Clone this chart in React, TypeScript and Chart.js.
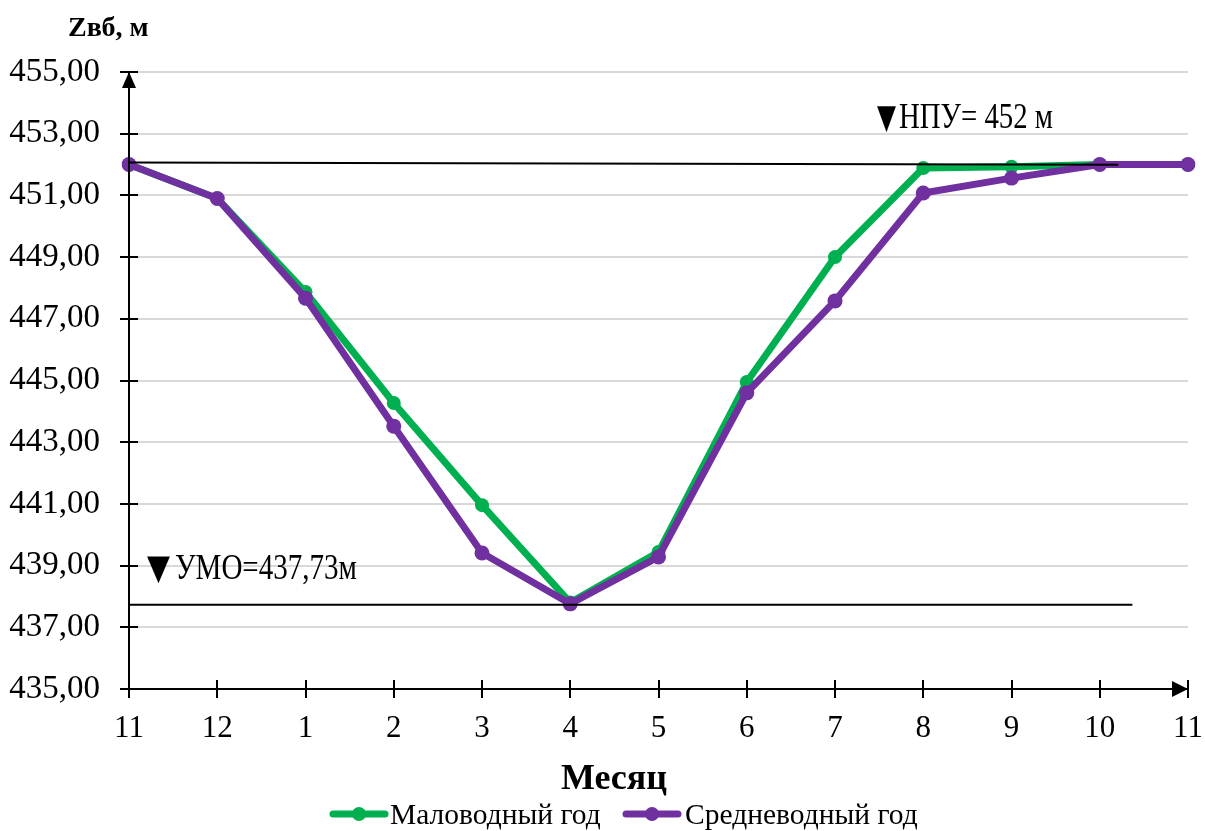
import React, { useEffect, useRef } from "react";
import { Chart, registerables } from "chart.js";

Chart.register(...registerables);

const months = ["11", "12", "1", "2", "3", "4", "5", "6", "7", "8", "9", "10", "11"];
const lowWaterYear = [452.0, 450.9, 447.87, 444.27, 440.96, 437.8, 439.44, 444.95, 449.0, 451.89, 451.93, 452.0, 452.0];
const midWaterYear = [452.0, 450.9, 447.67, 443.52, 439.41, 437.76, 439.28, 444.6, 447.58, 451.08, 451.56, 452.0, 452.0];
const seriesNames = ["Маловодный год", "Средневодный год"];
const seriesColors = ["#00B050", "#7030A0"];
const yMin = 435;
const yMax = 455;
const yStep = 2;
const npuLevel = 452;
const umoLevel = 437.73;
const markSymbol = "▼";
const npuLabel = "НПУ= 452 м";
const umoLabel = "УМО=437,73м";
const yTitle = "Zвб, м";
const xTitle = "Месяц";

const SERIF = "'Liberation Serif', 'Times New Roman', 'DejaVu Serif', serif";
const SYMBOL = "'DejaVu Sans', sans-serif";

function fitText(ctx: CanvasRenderingContext2D, text: string, x: number, y: number, font: string, width: number) {
  ctx.save();
  ctx.font = font;
  ctx.textAlign = "left";
  ctx.textBaseline = "alphabetic";
  const w = ctx.measureText(text).width;
  const s = width / w;
  ctx.translate(x, y);
  ctx.scale(s, 1);
  ctx.fillStyle = "#000";
  ctx.fillText(text, 0, 0);
  ctx.restore();
}

const overlay = {
  id: "overlay",
  afterDatasetsDraw(chart: any) {
    const ctx: CanvasRenderingContext2D = chart.ctx;
    const x = chart.scales.x;
    const y = chart.scales.y;
    ctx.save();
    ctx.strokeStyle = "#000";
    ctx.lineWidth = 2;
    ctx.beginPath();
    ctx.moveTo(x.getPixelForValue(0), y.getPixelForValue(npuLevel + 0.07));
    ctx.lineTo(x.getPixelForValue(11.21), y.getPixelForValue(npuLevel - 0.01));
    ctx.stroke();
    ctx.beginPath();
    ctx.moveTo(x.getPixelForValue(0), y.getPixelForValue(umoLevel));
    ctx.lineTo(x.getPixelForValue(11.37), y.getPixelForValue(umoLevel));
    ctx.stroke();
    ctx.restore();
  },
  afterDraw(chart: any) {
    const ctx: CanvasRenderingContext2D = chart.ctx;
    const area = chart.chartArea;
    const x = chart.scales.x;
    const y = chart.scales.y;
    ctx.save();
    ctx.strokeStyle = "#000";
    ctx.fillStyle = "#000";
    ctx.lineWidth = 2;
    ctx.beginPath();
    ctx.moveTo(area.left, area.top);
    ctx.lineTo(area.left, area.bottom);
    ctx.lineTo(area.right, area.bottom);
    ctx.stroke();
    for (let v = yMin; v <= yMax; v += yStep) {
      const py = Math.round(y.getPixelForValue(v));
      ctx.beginPath();
      ctx.moveTo(area.left - 9, py);
      ctx.lineTo(area.left + 9, py);
      ctx.stroke();
    }
    for (let i = 0; i < months.length; i++) {
      const px = Math.round(x.getPixelForValue(i));
      ctx.beginPath();
      ctx.moveTo(px, area.bottom - 9);
      ctx.lineTo(px, area.bottom + 9);
      ctx.stroke();
    }
    ctx.beginPath();
    ctx.moveTo(area.left, area.top);
    ctx.lineTo(area.left - 7, area.top + 16);
    ctx.lineTo(area.left + 7, area.top + 16);
    ctx.closePath();
    ctx.fill();
    ctx.beginPath();
    ctx.moveTo(area.right, area.bottom);
    ctx.lineTo(area.right - 16, area.bottom - 8);
    ctx.lineTo(area.right - 16, area.bottom + 8);
    ctx.closePath();
    ctx.fill();
    ctx.restore();

    // annotations
    fitText(ctx, markSymbol, 877, 128, `34px ${SYMBOL}`, 19);
    fitText(ctx, npuLabel, 899, 128, `35px ${SERIF}`, 154);
    fitText(ctx, markSymbol, 147, 579, `35px ${SYMBOL}`, 23);
    fitText(ctx, umoLabel, 175, 579, `36px ${SERIF}`, 182);

    ctx.save();
    ctx.fillStyle = "#000";
    ctx.font = `bold 28px ${SERIF}`;
    ctx.textAlign = "left";
    ctx.textBaseline = "alphabetic";
    ctx.fillText(yTitle, 68, 36);
    ctx.font = `bold 36px ${SERIF}`;
    ctx.textAlign = "center";
    ctx.fillText(xTitle, 614, 789);
    ctx.restore();

    const legendItems = [
      { lx: 330, tx: 390 },
      { lx: 623, tx: 685 },
    ];
    ctx.save();
    legendItems.forEach((it, i) => {
      const ly = 814;
      ctx.strokeStyle = seriesColors[i];
      ctx.fillStyle = seriesColors[i];
      ctx.lineWidth = 7;
      ctx.lineCap = "round";
      ctx.beginPath();
      ctx.moveTo(it.lx + 3, ly);
      ctx.lineTo(it.lx + 55, ly);
      ctx.stroke();
      ctx.beginPath();
      ctx.arc(it.lx + 29, ly, 7, 0, Math.PI * 2);
      ctx.fill();
      ctx.fillStyle = "#000";
      ctx.font = `29.5px ${SERIF}`;
      ctx.textAlign = "left";
      ctx.textBaseline = "middle";
      ctx.fillText(seriesNames[i], it.tx, ly + 2);
    });
    ctx.restore();
  },
};

export default function App() {
  const ref = useRef<HTMLCanvasElement>(null);
  useEffect(() => {
    document.body.style.margin = "0";
    const canvas = ref.current!;
    const chart = new Chart(canvas, {
      type: "line",
      data: {
        labels: months,
        datasets: [
          {
            label: seriesNames[0],
            data: lowWaterYear,
            borderColor: seriesColors[0],
            backgroundColor: seriesColors[0],
            pointBackgroundColor: seriesColors[0],
            pointBorderColor: seriesColors[0],
            borderWidth: 7,
            pointRadius: 7,
            pointBorderWidth: 0,
            tension: 0,
            order: 1,
          },
          {
            label: seriesNames[1],
            data: midWaterYear,
            borderColor: seriesColors[1],
            backgroundColor: seriesColors[1],
            pointBackgroundColor: seriesColors[1],
            pointBorderColor: seriesColors[1],
            borderWidth: 7,
            pointRadius: 7.5,
            pointBorderWidth: 0,
            tension: 0,
            order: 0,
          },
        ],
      },
      options: {
        responsive: false,
        animation: false,
        layout: { padding: { top: 72, right: 17, left: 0, bottom: 0 } },
        plugins: { legend: { display: false }, tooltip: { enabled: false }, title: { display: false } },
        scales: {
          x: {
            type: "category",
            offset: false,
            grid: { display: false, drawTicks: false },
            border: { display: false },
            ticks: {
              color: "#000",
              font: { family: SERIF, size: 31 },
              padding: 21,
              maxRotation: 0,
              autoSkip: false,
            },
            afterFit: (s: any) => {
              s.height = 142;
              s.paddingLeft = 0;
              s.paddingRight = 0;
            },
          },
          y: {
            min: yMin,
            max: yMax,
            grid: { color: "#d9d9d9", lineWidth: 2, drawTicks: false },
            border: { display: false },
            ticks: {
              stepSize: yStep,
              color: "#000",
              font: { family: SERIF, size: 33 },
              padding: 29,
              callback: (v: any) => Number(v).toFixed(2).replace(".", ","),
            },
            afterFit: (s: any) => {
              s.width = 129;
              s.paddingTop = 0;
              s.paddingBottom = 0;
            },
          },
        },
      },
      plugins: [overlay],
    });
    return () => chart.destroy();
  }, []);
  return <canvas ref={ref} width={1205} height={831} style={{ display: "block" }} />;
}
